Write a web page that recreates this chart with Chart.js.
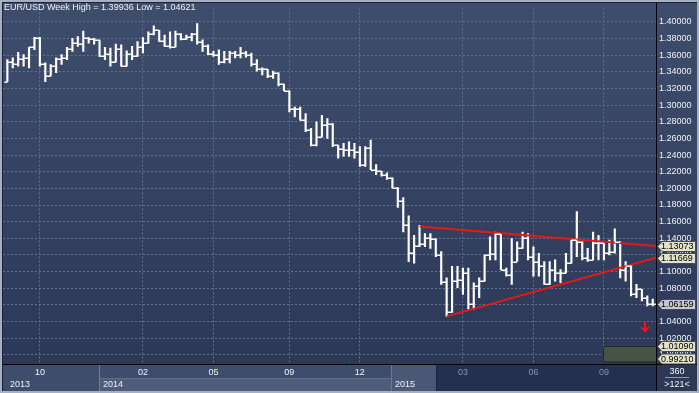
<!DOCTYPE html>
<html>
<head>
<meta charset="utf-8">
<script src="https://cdn.jsdelivr.net/npm/chart.js@4.4.0/dist/chart.umd.min.js"></script>
<style>
body { margin: 0; background: #a7b0c2; }
#wrap { position: relative; width: 699px; height: 393px; overflow: hidden; background: #a7b0c2;
  font-family: "Liberation Sans", Arial, sans-serif; }
#chart { position: absolute; left: 0; top: 0; z-index: 2; }
.p { position: absolute; z-index: 1; }
.t { position: absolute; z-index: 3; font-size: 9px; line-height: 11px; color: #f0f2f6; white-space: nowrap; }
</style>
</head>
<body>
<div id="wrap">
  <!-- bottom panel -->
  <div class="p" style="left:2px;top:365px;width:97px;height:26px;background:#3f4d6c;"></div>
  <div class="p" style="left:99px;top:365px;width:1px;height:26px;background:#6f7e9c;"></div>
  <div class="p" style="left:100px;top:365px;width:291px;height:13px;background:#3f4d6c;"></div>
  <div class="p" style="left:100px;top:378px;width:291px;height:1px;background:#5f6e8c;"></div>
  <div class="p" style="left:100px;top:379px;width:291px;height:12px;background:#4f5d7b;"></div>
  <div class="p" style="left:391px;top:365px;width:45px;height:26px;background:#4b5977;border-left:1px solid #6a7896;box-sizing:border-box;"></div>
  <div class="p" style="left:436px;top:365px;width:220px;height:26px;background:#243050;border-left:1px solid #1b2540;box-sizing:border-box;"></div>
  <div class="p" style="left:657px;top:365px;width:40px;height:26px;background:#2c3856;"></div>
  <div class="p" style="left:665px;top:377px;width:24px;height:1px;background:#8e9ab4;"></div>

  <canvas id="chart" width="699" height="393"></canvas>

  <div class="t" style="left:4px;top:2px;">EUR/USD Week High = 1.39936 Low = 1.04621</div>
  <div class="t" style="left:10px;top:379px;">2013</div>
  <div class="t" style="left:103px;top:379px;">2014</div>
  <div class="t" style="left:395px;top:379px;">2015</div>
  <div class="t" style="left:657px;top:366px;width:40px;text-align:center;">360</div>
  <div class="t" style="left:657px;top:379px;width:40px;text-align:center;">&gt;121&lt;</div>
</div>
<script>
// weekly bars, EUR/USD
var opens = [
  1.3283, 1.3519, 1.3500, 1.3550, 1.3570, 1.3693, 1.3810, 1.3490, 1.3350, 1.3470,
  1.3550, 1.3570, 1.3670, 1.3750, 1.3740, 1.3803, 1.3800, 1.3780, 1.3586, 1.3620,
  1.3520, 1.3680, 1.3468, 1.3620, 1.3586, 1.3693, 1.3744, 1.3850, 1.3900, 1.3776,
  1.3705, 1.3700, 1.3860, 1.3800, 1.3820, 1.3850, 1.3764, 1.3705, 1.3614, 1.3606,
  1.3519, 1.3560, 1.3626, 1.3606, 1.3626, 1.3600, 1.3500, 1.3430, 1.3429, 1.3350,
  1.3389, 1.3252, 1.3173, 1.2956, 1.2956, 1.2818, 1.2700, 1.2520, 1.2619, 1.2757,
  1.2777, 1.2521, 1.2469, 1.2460, 1.2462, 1.2442, 1.2285, 1.2485, 1.2225, 1.2206,
  1.2166, 1.2127, 1.2009, 1.1850, 1.1563, 1.1220, 1.1310, 1.1327, 1.1400, 1.1390,
  1.1200, 1.0870, 1.0511, 1.0885, 1.0896, 1.0984, 1.0609, 1.0826, 1.0885, 1.1200,
  1.1208, 1.1450, 1.1023, 1.0960, 1.1121, 1.1280, 1.1400, 1.1180, 1.1120, 1.1063,
  1.0846, 1.1023, 1.0984, 1.0984, 1.1102, 1.1378, 1.1358, 1.1161, 1.1141, 1.1338,
  1.1338, 1.1220, 1.1240, 1.1358, 1.1023, 1.1063, 1.0728, 1.0787, 1.0679, 1.0609
];
var highs = [
  1.3547, 1.3567, 1.3634, 1.3606, 1.3693, 1.3815, 1.3815, 1.3508, 1.3488, 1.3567,
  1.3606, 1.3693, 1.3803, 1.3823, 1.3890, 1.3810, 1.3803, 1.3780, 1.3693, 1.3685,
  1.3732, 1.3724, 1.3653, 1.3705, 1.3764, 1.3811, 1.3882, 1.3953, 1.3900, 1.3842,
  1.3882, 1.3890, 1.3860, 1.3842, 1.3862, 1.3980, 1.3783, 1.3724, 1.3645, 1.3665,
  1.3645, 1.3645, 1.3645, 1.3693, 1.3645, 1.3626, 1.3547, 1.3448, 1.3429, 1.3409,
  1.3389, 1.3252, 1.3173, 1.2976, 1.2976, 1.2897, 1.2720, 1.2798, 1.2877, 1.2838,
  1.2779, 1.2521, 1.2541, 1.2560, 1.2541, 1.2501, 1.2501, 1.2580, 1.2285, 1.2206,
  1.2186, 1.2127, 1.2009, 1.1890, 1.1670, 1.1437, 1.1555, 1.1456, 1.1456, 1.1397,
  1.1240, 1.0925, 1.1063, 1.1063, 1.1043, 1.1043, 1.0866, 1.0925, 1.1200, 1.1417,
  1.1476, 1.1460, 1.1043, 1.1397, 1.1358, 1.1476, 1.1456, 1.1299, 1.1220, 1.1121,
  1.1121, 1.1141, 1.1023, 1.1220, 1.1397, 1.1720, 1.1358, 1.1279, 1.1476, 1.1437,
  1.1338, 1.1378, 1.1515, 1.1358, 1.1121, 1.1082, 1.0846, 1.0787, 1.0708, 1.0669
];
var lows = [
  1.3283, 1.3448, 1.3468, 1.3468, 1.3448, 1.3665, 1.3468, 1.3283, 1.3350, 1.3389,
  1.3488, 1.3547, 1.3645, 1.3705, 1.3645, 1.3744, 1.3732, 1.3586, 1.3547, 1.3468,
  1.3520, 1.3468, 1.3468, 1.3547, 1.3586, 1.3626, 1.3744, 1.3842, 1.3764, 1.3705,
  1.3685, 1.3700, 1.3783, 1.3790, 1.3771, 1.3732, 1.3645, 1.3606, 1.3586, 1.3488,
  1.3508, 1.3508, 1.3567, 1.3567, 1.3575, 1.3468, 1.3409, 1.3362, 1.3330, 1.3322,
  1.3232, 1.3173, 1.2917, 1.2857, 1.2818, 1.2680, 1.2510, 1.2509, 1.2619, 1.2600,
  1.2501, 1.2363, 1.2383, 1.2383, 1.2363, 1.2265, 1.2265, 1.2225, 1.2166, 1.2147,
  1.2107, 1.2009, 1.1772, 1.1476, 1.1120, 1.1102, 1.1299, 1.1299, 1.1280, 1.1180,
  1.0846, 1.0462, 1.0511, 1.0806, 1.0727, 1.0550, 1.0550, 1.0688, 1.0885, 1.1141,
  1.1141, 1.1023, 1.0944, 1.0846, 1.1121, 1.1279, 1.1141, 1.0944, 1.0944, 1.0846,
  1.0846, 1.0885, 1.0866, 1.0984, 1.1102, 1.1180, 1.1141, 1.1121, 1.1141, 1.1141,
  1.1141, 1.1200, 1.1220, 1.0925, 1.0885, 1.0708, 1.0688, 1.0649, 1.0589, 1.0589
];
var closes = [
  1.3519, 1.3500, 1.3550, 1.3570, 1.3693, 1.3810, 1.3490, 1.3350, 1.3470, 1.3550,
  1.3570, 1.3670, 1.3750, 1.3740, 1.3803, 1.3800, 1.3780, 1.3586, 1.3620, 1.3520,
  1.3680, 1.3468, 1.3620, 1.3586, 1.3693, 1.3744, 1.3850, 1.3900, 1.3776, 1.3705,
  1.3700, 1.3860, 1.3800, 1.3820, 1.3850, 1.3764, 1.3705, 1.3614, 1.3606, 1.3519,
  1.3560, 1.3626, 1.3606, 1.3626, 1.3600, 1.3500, 1.3430, 1.3429, 1.3350, 1.3389,
  1.3252, 1.3173, 1.2956, 1.2956, 1.2818, 1.2700, 1.2520, 1.2619, 1.2757, 1.2777,
  1.2521, 1.2469, 1.2460, 1.2462, 1.2442, 1.2285, 1.2485, 1.2225, 1.2206, 1.2166,
  1.2127, 1.2009, 1.1850, 1.1563, 1.1220, 1.1310, 1.1327, 1.1400, 1.1390, 1.1200,
  1.0870, 1.0511, 1.0885, 1.0896, 1.0984, 1.0609, 1.0826, 1.0885, 1.1200, 1.1208,
  1.1450, 1.1023, 1.0960, 1.1121, 1.1280, 1.1400, 1.1180, 1.1120, 1.1063, 1.0846,
  1.1023, 1.0984, 1.0984, 1.1102, 1.1378, 1.1358, 1.1161, 1.1141, 1.1338, 1.1338,
  1.1220, 1.1240, 1.1358, 1.1023, 1.1063, 1.0728, 1.0787, 1.0679, 1.0609, 1.0616
];

// month grid (bar index) and labels
var monthAt = [6, 25, 38, 52, 65, 84, 97, 110];
var monthLabels = ["10", "02", "05", "09", "12", "03", "06", "09"];

// triangle trend lines [barIndex, price]
var upperLine = [[76, 1.1543], [119.6, 1.13073]];
var lowerLine = [[81, 1.0462], [119.6, 1.11669]];

// price tags on the right scale
var tagValues = [1.13073, 1.11669, 1.06159, 1.01090, 0.99210];

// target zone and arrow
var zoneFrom = 109.8, zoneTo = 119.6, zoneHigh = 1.0109, zoneLow = 0.9921;
var arrowAt = 117.6, arrowTop = 1.0405, arrowBottom = 1.0285;

var ohlcPlugin = {
  id: "ohlc",
  beforeDraw: function (chart) {
    var ctx = chart.ctx;
    var g = ctx.createLinearGradient(0, 3, 0, 364);
    g.addColorStop(0, "#3f4d6c");
    g.addColorStop(1, "#2c3857");
    ctx.save();
    ctx.fillStyle = g;
    ctx.fillRect(2, 2, 695, 362);
    ctx.restore();
  },
  beforeDatasetsDraw: function (chart) {
    var ctx = chart.ctx, xs = chart.scales.x, ys = chart.scales.y;
    // target zone
    var x1 = xs.getPixelForValue(zoneFrom), x2 = xs.getPixelForValue(zoneTo);
    var y1 = ys.getPixelForValue(zoneHigh), y2 = ys.getPixelForValue(zoneLow);
    ctx.save();
    ctx.fillStyle = "#465346";
    ctx.fillRect(x1, y1, x2 - x1, y2 - y1);
    ctx.strokeStyle = "#232a24";
    ctx.lineWidth = 1;
    ctx.strokeRect(Math.round(x1) + 0.5, Math.round(y1) + 0.5, x2 - x1, y2 - y1);
    ctx.restore();
  },
  afterDatasetsDraw: function (chart) {
    var ctx = chart.ctx, xs = chart.scales.x, ys = chart.scales.y;
    ctx.save();
    ctx.strokeStyle = "#ffffff";
    ctx.lineWidth = 1.5;
    ctx.beginPath();
    for (var i = 0; i < closes.length; i++) {
      var x = xs.getPixelForValue(i);
      var yo = Math.round(ys.getPixelForValue(opens[i])) + 0.25;
      var yc = Math.round(ys.getPixelForValue(closes[i])) + 0.25;
      ctx.moveTo(x - 3, yo); ctx.lineTo(x, yo);
      ctx.moveTo(x, yc); ctx.lineTo(x + 3, yc);
    }
    ctx.stroke();

    // red arrow
    var ax = Math.round(xs.getPixelForValue(arrowAt));
    var at = ys.getPixelForValue(arrowTop), ab = ys.getPixelForValue(arrowBottom);
    ctx.strokeStyle = "#ff1010";
    ctx.lineWidth = 2;
    ctx.beginPath();
    ctx.moveTo(ax, at); ctx.lineTo(ax, ab);
    ctx.moveTo(ax - 4, ab - 4); ctx.lineTo(ax, ab); ctx.lineTo(ax + 4, ab - 4);
    ctx.stroke();
    ctx.restore();
  },
  afterDraw: function (chart) {
    var ctx = chart.ctx, ys = chart.scales.y, area = chart.chartArea;
    ctx.save();
    // frame lines
    ctx.strokeStyle = "#000000";
    ctx.lineWidth = 1;
    ctx.beginPath();
    ctx.moveTo(2, area.bottom + 0.5); ctx.lineTo(697, area.bottom + 0.5);
    ctx.moveTo(area.right + 0.5, 2); ctx.lineTo(area.right + 0.5, 391);
    ctx.stroke();
    ctx.strokeStyle = "#1c2336";
    ctx.beginPath();
    ctx.moveTo(2.5, 2); ctx.lineTo(2.5, 391);
    ctx.moveTo(2, 2.5); ctx.lineTo(697, 2.5);
    ctx.stroke();

    // price tags
    ctx.font = "9px 'Liberation Sans', Arial, sans-serif";
    ctx.textBaseline = "middle";
    ctx.textAlign = "left";
    var left = area.right + 1;
    tagValues.forEach(function (v, k) {
      var y = Math.round(ys.getPixelForValue(v)) + 0.5;
      if (y > area.bottom - 5) y = area.bottom - 5;
      ctx.beginPath();
      ctx.moveTo(left + 0.5, y);
      ctx.lineTo(left + 5, y - 5);
      ctx.lineTo(695.5, y - 5);
      ctx.lineTo(695.5, y + 5);
      ctx.lineTo(left + 5, y + 5);
      ctx.closePath();
      ctx.fillStyle = k === 2 ? "#c4c8d2" : "#e3e3cb";
      ctx.fill();
      ctx.strokeStyle = "#4a4a44";
      ctx.stroke();
      ctx.fillStyle = "#000000";
      ctx.fillText(v.toFixed(5), left + 4, y + 0.5);
    });
    ctx.restore();
  }
};

var bars = highs.map(function (h, i) { return { x: i, y: [lows[i], h] }; });
var toPoints = function (line) { return line.map(function (p) { return { x: p[0], y: p[1] }; }); };

new Chart(document.getElementById("chart"), {
  type: "bar",
  data: {
    datasets: [
      { type: "line", data: toPoints(upperLine), borderColor: "#e81818", borderWidth: 2, pointRadius: 0, fill: false },
      { type: "line", data: toPoints(lowerLine), borderColor: "#e81818", borderWidth: 2, pointRadius: 0, fill: false },
      { type: "bar", data: bars, backgroundColor: "#ffffff", borderWidth: 0, barThickness: 1.5 }
    ]
  },
  options: {
    responsive: false,
    animation: false,
    devicePixelRatio: 1,
    layout: { padding: { left: 3, top: 3, right: 0, bottom: 0 } },
    plugins: { legend: { display: false }, tooltip: { enabled: false } },
    scales: {
      x: {
        type: "linear",
        min: -0.8,
        max: 119.6,
        offset: false,
        afterBuildTicks: function (scale) {
          scale.ticks = monthAt.map(function (v) { return { value: v }; });
        },
        afterFit: function (scale) { scale.height = 29; },
        grid: { offset: false, color: "#5f7090", lineWidth: 1, drawTicks: false },
        border: { display: false, dash: [2, 2] },
        ticks: {
          autoSkip: false,
          maxRotation: 0,
          padding: 3,
          font: { family: "'Liberation Sans', Arial, sans-serif", size: 9 },
          color: function (c) { return c.index >= 5 ? "#8393b8" : "#f0f2f6"; },
          callback: function (v, i) { return monthLabels[i]; }
        }
      },
      y: {
        position: "right",
        min: 0.989,
        max: 1.4162,
        afterFit: function (scale) { scale.width = 43; },
        grid: { color: "#5f7090", lineWidth: 1, drawTicks: false },
        border: { display: false, dash: [2, 2] },
        ticks: {
          stepSize: 0.02,
          includeBounds: false,
          padding: 3,
          font: { family: "'Liberation Sans', Arial, sans-serif", size: 9 },
          color: "#f0f2f6",
          callback: function (v) { return v.toFixed(5); }
        }
      }
    }
  },
  plugins: [ohlcPlugin]
});
</script>
</body>
</html>
